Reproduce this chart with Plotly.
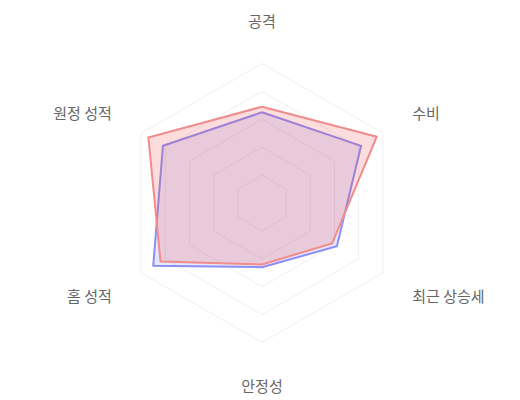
import plotly.graph_objects as go

categories = ["공격", "수비", "최근 상승세", "안정성", "홈 성적", "원정 성적"]
team_a = [65, 82, 62, 46, 90, 82]
team_b = [69, 95, 58, 44, 84, 94]

fig = go.Figure()
fig.add_trace(go.Scatterpolar(r=team_a + team_a[:1], theta=categories + categories[:1], mode="lines",
                              fill="toself", fillcolor="rgba(99,102,241,0.15)",
                              line=dict(color="#8b8ff5", width=2), name="A"))
fig.add_trace(go.Scatterpolar(r=team_b + team_b[:1], theta=categories + categories[:1], mode="lines",
                              fill="toself", fillcolor="rgba(239,68,68,0.18)",
                              line=dict(color="#f28b8b", width=2), name="B"))

# page body adds 8px, so the figure is kept a bit smaller than the window
fig.update_layout(
    width=512, height=392,
    margin=dict(l=0, r=4, t=22, b=24),
    paper_bgcolor="white",
    showlegend=False,
    font=dict(family="Noto Sans CJK KR", size=15, color="#666"),
    polar=dict(
        bgcolor="white",
        gridshape="linear",
        radialaxis=dict(range=[0, 124], tickvals=[20, 40, 60, 80, 100], showticklabels=False,
                        showline=False, gridcolor="#f0f0f0", ticks=""),
        angularaxis=dict(rotation=90, direction="clockwise", showline=False,
                         showgrid=False, ticks="", tickfont=dict(size=15, color="#666")),
    ),
)
fig.write_html("out.html")
